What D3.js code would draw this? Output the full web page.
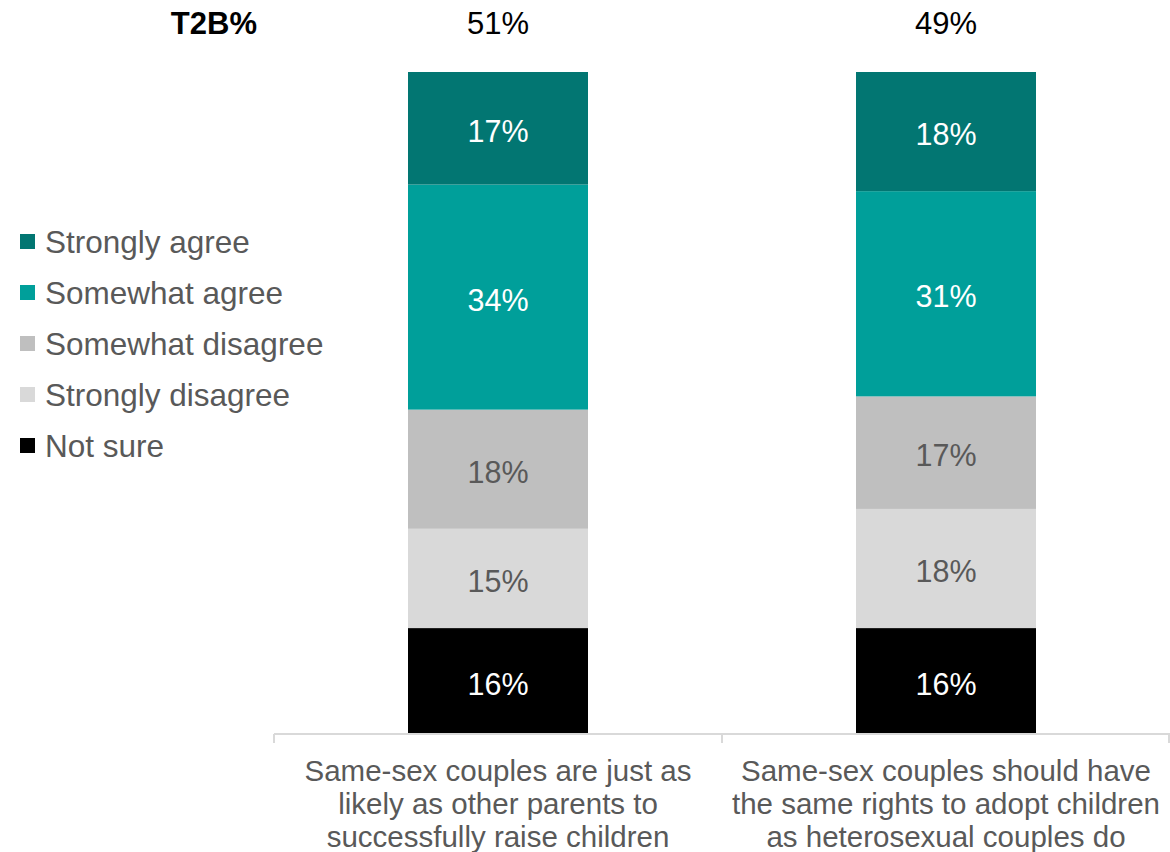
<!DOCTYPE html>
<html>
<head>
<meta charset="utf-8">
<script src="https://cdn.jsdelivr.net/npm/d3@7"></script>
<style>
  body { margin: 0; background: #fff; }
  text { font-family: "Liberation Sans", Arial, sans-serif; }
</style>
</head>
<body>
<div id="chart"></div>
<script>
// data
const categories = [
    ["Same-sex couples are just as", "likely as other parents to", "successfully raise children"],
    ["Same-sex couples should have", "the same rights to adopt children", "as heterosexual couples do"]
];
const seriesNames = ["Not sure", "Strongly disagree", "Somewhat disagree", "Somewhat agree", "Strongly agree"];
const notSure = [16, 16];
const stronglyDisagree = [15, 18];
const somewhatDisagree = [18, 17];
const somewhatAgree = [34, 31];
const stronglyAgree = [17, 18];
const t2b = ["51%", "49%"];

const colors = ["#000000", "#D9D9D9", "#BFBFBF", "#009F9A", "#027672"];
const labelColors = ["#ffffff", "#595959", "#595959", "#ffffff", "#ffffff"];

const W = 1170, H = 852;
const plot = { left: 274, right: 1170, top: 72, bottom: 734 };

const svg = d3.select("#chart").append("svg")
    .attr("width", W)
    .attr("height", H);

const rows = categories.map((c, i) => ({
    idx: i,
    "Not sure": notSure[i],
    "Strongly disagree": stronglyDisagree[i],
    "Somewhat disagree": somewhatDisagree[i],
    "Somewhat agree": somewhatAgree[i],
    "Strongly agree": stronglyAgree[i]
}));

const stack = d3.stack().keys(seriesNames)(rows);

const x = d3.scaleBand()
    .domain(rows.map(d => d.idx))
    .range([plot.left, plot.right])
    .paddingInner(0)
    .paddingOuter(0);
const barW = 180;

const y = d3.scaleLinear()
    .domain([0, 100])
    .range([plot.bottom, plot.top]);

// bars
stack.forEach((s, si) => {
    const g = svg.append("g");
    g.selectAll("rect")
        .data(s)
        .enter()
        .append("rect")
        .attr("x", d => x(d.data.idx) + x.bandwidth() / 2 - barW / 2)
        .attr("width", barW)
        .attr("y", d => y(d[1]))
        .attr("height", d => y(d[0]) - y(d[1]))
        .attr("fill", colors[si]);

    g.selectAll("text")
        .data(s)
        .enter()
        .append("text")
        .attr("x", d => x(d.data.idx) + x.bandwidth() / 2)
        .attr("y", d => (y(d[0]) + y(d[1])) / 2)
        .attr("dy", "0.45em")
        .attr("text-anchor", "middle")
        .attr("font-size", 30.5)
        .attr("fill", labelColors[si])
        .text(d => (d[1] - d[0]) + "%");
});

// axis
const axis = svg.append("g").attr("stroke", "#D9D9D9").attr("stroke-width", 2);
axis.append("line")
    .attr("x1", plot.left).attr("x2", plot.right)
    .attr("y1", plot.bottom).attr("y2", plot.bottom);
const tickXs = [plot.left, plot.left + x.bandwidth(), plot.right - 1];
axis.selectAll(".tick")
    .data(tickXs)
    .enter()
    .append("line")
    .attr("x1", d => d).attr("x2", d => d)
    .attr("y1", plot.bottom).attr("y2", plot.bottom + 9);

// category labels
categories.forEach((lines, i) => {
    const t = svg.append("text")
        .attr("text-anchor", "middle")
        .attr("font-size", 29.5)
        .attr("fill", "#595959");
    lines.forEach((ln, j) => {
        t.append("tspan")
            .attr("x", x(i) + x.bandwidth() / 2)
            .attr("y", 781 + j * 33)
            .text(ln);
    });
});

// T2B row
svg.append("text")
    .attr("x", 257)
    .attr("y", 34)
    .attr("text-anchor", "end")
    .attr("font-size", 31)
    .attr("font-weight", "bold")
    .attr("fill", "#000")
    .text("T2B%");

svg.selectAll(".t2b")
    .data(t2b)
    .enter()
    .append("text")
    .attr("x", (d, i) => x(i) + x.bandwidth() / 2)
    .attr("y", 34)
    .attr("text-anchor", "middle")
    .attr("font-size", 31)
    .attr("fill", "#000")
    .text(d => d);

// legend (top to bottom: strongly agree first)
const legendItems = seriesNames.map((n, i) => ({ name: n, color: colors[i] })).reverse();
const legend = svg.append("g").attr("transform", "translate(20,242)");
legendItems.forEach((d, i) => {
    const row = legend.append("g").attr("transform", `translate(0,${i * 51})`);
    row.append("rect")
        .attr("x", 0).attr("y", -8)
        .attr("width", 15).attr("height", 15)
        .attr("fill", d.color);
    row.append("text")
        .attr("x", 25)
        .attr("y", 0)
        .attr("dy", "0.36em")
        .attr("font-size", 31.5)
        .attr("fill", "#595959")
        .text(d.name);
});
</script>
</body>
</html>
